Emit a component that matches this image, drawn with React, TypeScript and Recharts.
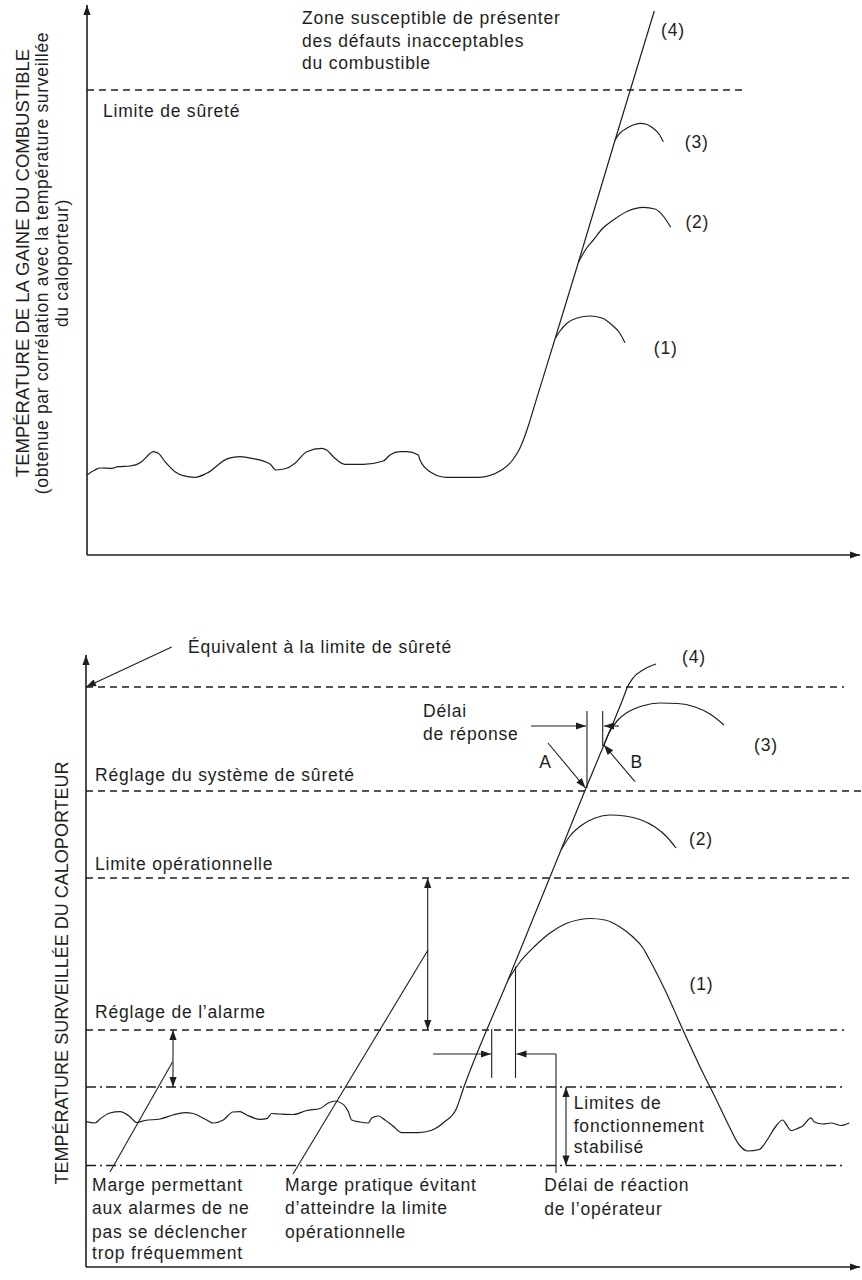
import React from 'react';
import { LineChart, Line, XAxis, YAxis, ReferenceLine, ReferenceDot } from 'recharts';

type P = { t: number; v: number };
const pts = (a: number[][]): P[] => a.map(([t, v]) => ({ t, v }));

const INK = '#1e1e1e';
const FONT = "'Liberation Sans', Arial, Helvetica, sans-serif";

// ---------- TOP PANEL (time t, cladding temperature v) ----------
const topCurve4 = pts([
  [0, 80], [8, 85], [13, 87], [24.7, 86.7], [31, 88.3], [43, 89], [54.7, 93.3], [59.7, 98.3],
  [66.3, 103.3], [71.3, 101.7], [78, 93.3], [88, 83.3], [96.3, 79.3], [108, 77.7], [119.7, 81.7],
  [141.3, 96.7], [153, 98.3], [164.7, 96.7], [183, 91], [189, 85], [199.7, 86.7], [208, 91.7],
  [219.7, 103.3], [234.7, 106.7], [239.7, 105], [246.3, 98.3], [258, 90.7], [276.3, 90.7],
  [296.3, 94], [303, 100], [313, 103.3], [319.7, 103.3], [331.3, 100], [333, 95], [343, 83.3],
  [359.7, 77.7], [391.3, 77.7], [414.7, 85], [426, 95.5], [433, 107], [437.5, 118], [441.6, 130],
  [449.7, 156.7], [468.3, 217], [491.5, 293], [528.1, 415], [567.3, 544],
]);
const topArc3 = pts([
  [528, 415], [533, 422], [539.7, 426.7], [546, 430], [553, 431.7], [560, 430.5], [566.3, 426.7],
  [572, 421], [576.3, 413.3],
]);
const topArc2 = pts([
  [491.5, 293], [499, 306], [506.3, 315], [516, 327], [526.3, 335], [541, 344], [556.3, 347.7],
  [568, 346], [577, 338], [583.7, 327.7],
]);
const topArc1 = pts([
  [468.5, 217], [473, 224], [479.7, 231.5], [490, 237], [503, 239], [515, 237], [525, 230],
  [532, 223], [538, 212.3],
]);
const topSafetyLimit = 465;
const topZoneText = ['Zone susceptible de présenter', 'des défauts inacceptables', 'du combustible'];
const topZoneY = [537, 514, 492.5];
const topYTitle = [
  'TEMPÉRATURE DE LA GAINE DU COMBUSTIBLE',
  '(obtenue par corrélation avec la température surveillée',
  'du caloporteur)',
];
const topYTitleX = [-65, -45, -25];
const topCaseLabels = [
  { s: '(4)', t: 586, v: 525 },
  { s: '(3)', t: 609.7, v: 413.3 },
  { s: '(2)', t: 610.3, v: 333.3 },
  { s: '(1)', t: 578.7, v: 206.7 },
];

// ---------- BOTTOM PANEL (time t, monitored coolant temperature v) ----------
const botCurve4 = pts([
  [0, 145.3], [9, 144], [14, 148], [24, 154], [34, 155.3], [44, 150.3], [50.7, 144.5], [59, 146.5],
  [74, 148], [87, 152], [99, 154.3], [107, 153.5], [120.7, 147], [127.3, 144], [137.3, 147],
  [147, 155], [154, 155.3], [160.7, 152], [174, 147.7], [180.7, 148.3], [185.7, 153.5], [194, 153],
  [207, 152.5], [220.7, 156.5], [234, 158.5], [242.3, 164], [249, 166], [257.3, 162.6],
  [262.3, 155.4], [265.7, 147], [274, 145], [282.3, 144], [285.7, 149], [292.3, 151], [299, 147],
  [307.3, 140.7], [315.7, 134.4], [332.3, 134.4], [345, 136.5], [358.3, 145], [370, 157.5],
  [378.3, 181], [422, 287], [475, 417], [500, 479], [517.5, 521], [538, 571], [541, 579],
  [547, 589], [557, 597], [570, 603],
]);
const botArc1 = pts([
  [422, 287], [434, 305], [449, 321], [464, 334], [479, 343], [494, 347.5], [504, 348.5],
  [519, 347], [534, 340], [547, 330], [557, 319], [561, 312], [579, 277], [597, 237], [617, 194],
  [629, 170], [642, 143], [653.3, 122], [661.7, 116], [673.3, 117.5], [681.7, 128], [690, 141],
  [696.7, 147], [700, 143], [705, 136.5], [711.7, 138.6], [716.7, 141], [725, 149.2], [728.3, 145],
  [736.7, 143], [745, 144], [755, 141.5], [763.3, 144],
]);
const botArc2 = pts([
  [475, 417], [484, 431], [496, 442], [509, 449], [524, 452], [539, 451], [554, 447.5], [569, 440],
  [581, 430], [590, 419],
]);
const botArc3 = pts([
  [517.5, 521], [523, 534], [531, 546], [542, 555], [556, 561], [574, 564], [592, 563.5],
  [609, 560], [624, 553], [638, 542],
]);
const botDashedLevels = [
  { v: 580, end: 758 },
  { v: 476, end: 775 },
  { v: 389, end: 763 },
  { v: 237, end: 758 },
];
const botDashDotLevels = [180, 101.5];
const botLevelLabels = [
  { s: 'Réglage du système de sûreté', v: 492 },
  { s: 'Limite opérationnelle', v: 403 },
  { s: 'Réglage de l’alarme', v: 255.3 },
];
const botCaseLabels = [
  { s: '(4)', t: 608, v: 610 },
  { s: '(3)', t: 680, v: 522.5 },
  { s: '(2)', t: 615, v: 427.6 },
  { s: '(1)', t: 615.5, v: 283 },
];
const botNotes = [
  { s: 'Équivalent à la limite de sûreté', t: 102, v: 620 },
  { s: 'Délai', t: 337, v: 556 },
  { s: 'de réponse', t: 337, v: 533 },
  { s: 'Limites de', t: 487.7, v: 164 },
  { s: 'fonctionnement', t: 487.7, v: 141.5 },
  { s: 'stabilisé', t: 487.7, v: 119.6 },
  { s: 'Marge permettant', t: 6, v: 82 },
  { s: 'aux alarmes de ne', t: 6, v: 59 },
  { s: 'pas se déclencher', t: 6, v: 35.5 },
  { s: 'trop fréquemment', t: 6, v: 14 },
  { s: 'Marge pratique évitant', t: 199, v: 82 },
  { s: 'd’atteindre la limite', t: 199, v: 59 },
  { s: 'opérationnelle', t: 199, v: 35.5 },
  { s: 'Délai de réaction', t: 458.3, v: 81.6 },
  { s: 'de l’opérateur', t: 458.3, v: 58.4 },
];
const botLetters = [
  { s: 'A', t: 459.5, v: 505.5 },
  { s: 'B', t: 550.7, v: 505.3 },
];

type XY = [number, number];

const seg = (key: string, a: XY, b: XY, dash?: string, w = 1.1) => (
  <ReferenceLine
    key={key}
    segment={[{ x: a[0], y: a[1] }, { x: b[0], y: b[1] }]}
    stroke={INK}
    strokeWidth={w}
    strokeDasharray={dash}
    ifOverflow="visible"
  />
);

const head = (key: string, from: XY, to: XY) => {
  const ang = (Math.atan2(-(to[1] - from[1]), to[0] - from[0]) * 180) / Math.PI;
  return (
    <ReferenceDot
      key={key}
      x={to[0]}
      y={to[1]}
      ifOverflow="visible"
      shape={(p: any) => (
        <path
          d="M0,0 L-10,-3.6 L-10,3.6 Z"
          fill={INK}
          transform={`translate(${p.cx},${p.cy}) rotate(${ang})`}
        />
      )}
    />
  );
};

const arrow = (key: string, from: XY, to: XY, w = 1.1) => [seg(key + 's', from, to, undefined, w), head(key + 'h', from, to)];
const dbl = (key: string, a: XY, b: XY) => [seg(key + 's', a, b), head(key + 'h1', b, a), head(key + 'h2', a, b)];

const txt = (
  key: string,
  t: number,
  v: number,
  s: string,
  anchor: 'start' | 'middle' = 'start',
  rotate = false,
  size = 17.5,
  spacing = 0.8,
) => (
  <ReferenceDot
    key={key}
    x={t}
    y={v}
    ifOverflow="visible"
    shape={(p: any) => (
      <text
        x={p.cx}
        y={p.cy}
        fill={INK}
        fontFamily={FONT}
        fontSize={size}
        textAnchor={rotate ? 'middle' : anchor}
        dominantBaseline="central"
        style={{ letterSpacing: `${spacing}px` }}
        transform={rotate ? `rotate(-90 ${p.cx} ${p.cy})` : undefined}
      >
        {s}
      </text>
    )}
  />
);

const curve = (key: string, data: P[]) => (
  <Line
    key={key}
    data={data}
    dataKey="v"
    type="monotone"
    dot={false}
    activeDot={false}
    stroke={INK}
    strokeWidth={1.2}
    isAnimationActive={false}
  />
);

function TopPanel() {
  return (
    <LineChart width={862} height={620} margin={{ top: 5, right: 2, bottom: 65, left: 87 }}>
      <XAxis type="number" dataKey="t" domain={[0, 773]} allowDataOverflow hide />
      <YAxis type="number" domain={[0, 550]} allowDataOverflow hide />
      {seg('ax', [0, 0], [773, 0], undefined, 1.6)}
      {head('axh', [0, 0], [773, 0])}
      {seg('ay', [0, 0], [0, 550], undefined, 1.6)}
      {head('ayh', [0, 0], [0, 550])}
      {seg('safe', [0, topSafetyLimit], [656, topSafetyLimit], '7 5', 1.3)}
      {curve('c4', topCurve4)}
      {curve('c3', topArc3)}
      {curve('c2', topArc2)}
      {curve('c1', topArc1)}
      {topZoneText.map((s, i) => txt('z' + i, 215, topZoneY[i], s))}
      {txt('ls', 16, 444.3, 'Limite de sûreté')}
      {topCaseLabels.map((c, i) => txt('cl' + i, c.t, c.v, c.s, 'middle'))}
      {topYTitle.map((s, i) =>
        txt('yt' + i, topYTitleX[i], 292, s, 'middle', true, i === 0 ? 18.5 : 17.5, i === 0 ? 0 : 0.7),
      )}
    </LineChart>
  );
}

function BottomPanel() {
  return (
    <LineChart width={862} height={660} margin={{ top: 35, right: 2, bottom: 13, left: 86 }}>
      <XAxis type="number" dataKey="t" domain={[0, 774]} allowDataOverflow hide />
      <YAxis type="number" domain={[0, 612]} allowDataOverflow hide />
      {seg('ax', [0, 0], [774, 0], undefined, 1.6)}
      {head('axh', [0, 0], [774, 0])}
      {seg('ay', [0, 0], [0, 612], undefined, 1.6)}
      {head('ayh', [0, 0], [0, 612])}
      {botDashedLevels.map((d, i) => seg('d' + i, [0, d.v], [d.end, d.v], '7 5', 1.3))}
      {botDashDotLevels.map((v, i) => seg('dd' + i, [0, v], [758, v], '10 4 2 4', 1.3))}
      {curve('c4', botCurve4)}
      {curve('c3', botArc3)}
      {curve('c2', botArc2)}
      {curve('c1', botArc1)}
      {arrow('eq', [85.7, 620], [0, 580])}
      {arrow('rl', [445, 541], [500, 541])}
      {seg('rv1', [501, 556], [501, 479])}
      {seg('rv2', [516.7, 556], [516.7, 521])}
      {arrow('rr', [533, 541], [518, 541])}
      {arrow('A', [462, 524], [499.5, 479])}
      {arrow('B', [549, 485.3], [518, 522])}
      {dbl('op', [341.7, 389], [341.7, 237])}
      {seg('lp', [207, 93], [342, 317])}
      {dbl('al', [87, 237], [87, 180])}
      {seg('la', [24, 95], [86.5, 205])}
      {seg('ov1', [405.7, 238], [405.7, 189])}
      {seg('ov2', [429.5, 300.5], [429.5, 189])}
      {arrow('ol', [347, 213], [405, 213])}
      {seg('oc', [470, 94], [470, 213])}
      {arrow('or', [470, 213], [430.5, 213])}
      {dbl('st', [480, 180], [480, 101.5])}
      {botLevelLabels.map((l, i) => txt('ll' + i, 9, l.v, l.s))}
      {botCaseLabels.map((c, i) => txt('cl' + i, c.t, c.v, c.s, 'middle'))}
      {botNotes.map((n, i) => txt('n' + i, n.t, n.v, n.s))}
      {botLetters.map((n, i) => txt('lt' + i, n.t, n.v, n.s, 'middle'))}
      {txt('yt', -24, 294, 'TEMPÉRATURE SURVEILLÉE DU CALOPORTEUR', 'middle', true, 18, 0)}
    </LineChart>
  );
}

export default function App() {
  return (
    <div style={{ position: 'absolute', left: 0, top: 0, width: 862, height: 1280, background: '#fff' }}>
      <div style={{ width: 862, height: 620 }}>
        <TopPanel />
      </div>
      <div style={{ width: 862, height: 660 }}>
        <BottomPanel />
      </div>
    </div>
  );
}
